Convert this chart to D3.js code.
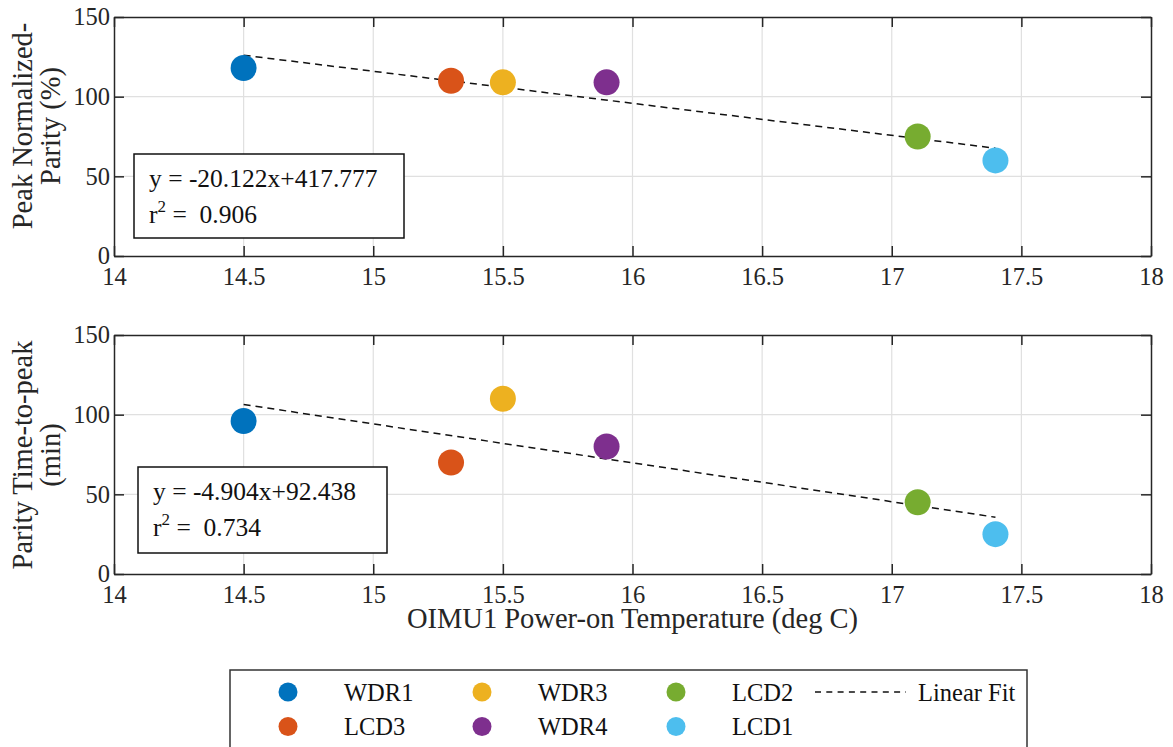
<!DOCTYPE html>
<html>
<head>
<meta charset="utf-8">
<script src="https://cdn.jsdelivr.net/npm/d3@7"></script>
<style>
  html, body { margin: 0; padding: 0; background: #fff; }
  svg { display: block; }
  svg text { font-family: "Liberation Serif", "Times New Roman", serif !important; }
</style>
</head>
<body>
<svg id="chart" width="1173" height="747"></svg>
<script>
// Units and their OIMU1 power-on temperatures (deg C)
const units = ["WDR1", "LCD3", "WDR3", "WDR4", "LCD2", "LCD1"];
const temps = [14.5, 15.3, 15.5, 15.9, 17.1, 17.4];
// Peak normalized parity (%)
const peakParity = [118, 110, 109, 109, 75, 60];
// Parity time-to-peak (min)
const timeToPeak = [96, 70, 110, 80, 45, 25];
const unitColors = ["#0072BD", "#D95319", "#EDB120", "#7E2F8E", "#77AC30", "#4DBEEE"];

const xTicks = [14, 14.5, 15, 15.5, 16, 16.5, 17, 17.5, 18];
const yTicks = [0, 50, 100, 150];

// Fit annotations shown in each panel
const topFitText = ["y = -20.122x+417.777", "0.906"];
const bottomFitText = ["y = -4.904x+92.438", "0.734"];

// Legend layout order (column-major, two rows)
const legendOrder = ["WDR1", "LCD3", "WDR3", "WDR4", "LCD2", "LCD1"];

const svg = d3.select("#chart");
const left = 114, right = 1151;
const axisColor = "#262626";
const tickFont = 24.5;
const boxFont = 25.5;
const labelFont = 28.5;

const x = d3.scaleLinear().domain([14, 18]).range([left, right]);

function leastSquares(xs, ys) {
  const mx = d3.mean(xs), my = d3.mean(ys);
  let sxy = 0, sxx = 0;
  for (let i = 0; i < xs.length; i++) { sxy += (xs[i] - mx) * (ys[i] - my); sxx += (xs[i] - mx) ** 2; }
  const slope = sxy / sxx;
  return { slope, intercept: my - slope * mx };
}

function panel(opts) {
  const { top, bottom, values, ylabel, labelCenter, fitText, box } = opts;
  const y = d3.scaleLinear().domain([0, 150]).range([bottom, top]);
  const g = svg.append("g");

  // grid
  g.append("g").selectAll("line").data(xTicks.slice(1, -1)).join("line")
    .attr("x1", d => x(d)).attr("x2", d => x(d)).attr("y1", top).attr("y2", bottom)
    .attr("stroke", "#e0e0e0").attr("stroke-width", 1.2);
  g.append("g").selectAll("line").data(yTicks.slice(1, -1)).join("line")
    .attr("y1", d => y(d)).attr("y2", d => y(d)).attr("x1", left).attr("x2", right)
    .attr("stroke", "#e0e0e0").attr("stroke-width", 1.2);

  // axes: labelled bottom/left, mirrored ticks on top/right, all pointing inward
  const xb = g.append("g").attr("transform", `translate(0,${bottom})`)
    .call(d3.axisBottom(x).tickValues(xTicks).tickSizeInner(-10).tickSizeOuter(0).tickPadding(12).tickFormat(d3.format("")));
  const xt = g.append("g").attr("transform", `translate(0,${top})`)
    .call(d3.axisTop(x).tickValues(xTicks).tickSizeInner(-10).tickSizeOuter(0).tickFormat(""));
  const yl = g.append("g").attr("transform", `translate(${left},0)`)
    .call(d3.axisLeft(y).tickValues(yTicks).tickSizeInner(-10).tickSizeOuter(0).tickPadding(4));
  const yr = g.append("g").attr("transform", `translate(${right},0)`)
    .call(d3.axisRight(y).tickValues(yTicks).tickSizeInner(-10).tickSizeOuter(0).tickFormat(""));
  [xb, xt, yl, yr].forEach(a => {
    a.select(".domain").attr("stroke", axisColor).attr("stroke-width", 1.5);
    a.selectAll(".tick line").attr("stroke", axisColor).attr("stroke-width", 1.5);
    a.selectAll(".tick text").attr("fill", "#262626").attr("font-size", tickFont);
  });

  // fit annotation box
  g.append("rect").attr("x", box.x).attr("y", box.y).attr("width", box.w).attr("height", box.h)
    .attr("fill", "#fff").attr("stroke", "#111").attr("stroke-width", 1.5);
  g.append("text").attr("x", box.x + 15).attr("y", box.y + 33).attr("font-size", boxFont).attr("fill", "#111")
    .text(fitText[0]);
  const r2 = g.append("text").attr("x", box.x + 15).attr("y", box.y + 69).attr("font-size", boxFont)
    .attr("fill", "#111").attr("xml:space", "preserve").style("white-space", "pre");
  r2.append("tspan").text("r");
  r2.append("tspan").attr("font-size", 17).attr("dy", -11).text("2");
  r2.append("tspan").attr("dy", 11).text(" =  " + fitText[1]);

  // linear least-squares fit over the measured temperature range
  const fit = leastSquares(temps, values);
  const x0 = d3.min(temps), x1 = d3.max(temps);
  g.append("line")
    .attr("x1", x(x0)).attr("y1", y(fit.slope * x0 + fit.intercept))
    .attr("x2", x(x1)).attr("y2", y(fit.slope * x1 + fit.intercept))
    .attr("stroke", "#111").attr("stroke-width", 1.5).attr("stroke-dasharray", "7,5");

  // unit markers
  g.append("g").selectAll("circle").data(units).join("circle")
    .attr("cx", (d, i) => x(temps[i])).attr("cy", (d, i) => y(values[i])).attr("r", 13)
    .attr("fill", (d, i) => unitColors[i]);

  // two-line y label
  ylabel.forEach((line, i) => {
    g.append("text").attr("transform", `translate(${32 + i * 28},${labelCenter}) rotate(-90)`)
      .attr("text-anchor", "middle").attr("font-size", labelFont).attr("fill", "#262626").text(line);
  });
}

panel({ top: 17, bottom: 256, values: peakParity, ylabel: ["Peak Normalized-", "Parity (%)"], labelCenter: 126,
  fitText: topFitText, box: { x: 134, y: 154, w: 270, h: 84 } });
panel({ top: 335, bottom: 574, values: timeToPeak, ylabel: ["Parity Time-to-peak", "(min)"], labelCenter: 455,
  fitText: bottomFitText, box: { x: 138, y: 467, w: 249, h: 86 } });

svg.append("text").attr("x", (left + right) / 2).attr("y", 628).attr("text-anchor", "middle")
  .attr("font-size", labelFont).attr("fill", "#262626").text("OIMU1 Power-on Temperature (deg C)");

// legend
const lg = svg.append("g");
lg.append("rect").attr("x", 230).attr("y", 670).attr("width", 797).attr("height", 100)
  .attr("fill", "#fff").attr("stroke", "#333").attr("stroke-width", 1.5);
const colX = [288, 482, 676];
const rowY = [692, 726.5];
legendOrder.forEach((name, k) => {
  const i = units.indexOf(name);
  const cx = colX[Math.floor(k / 2)], cy = rowY[k % 2];
  lg.append("circle").attr("cx", cx).attr("cy", cy).attr("r", 9.5).attr("fill", unitColors[i]);
  lg.append("text").attr("x", cx + 56).attr("y", cy + 8.5).attr("font-size", tickFont).attr("fill", "#111").text(name);
});
lg.append("line").attr("x1", 815).attr("x2", 906).attr("y1", 692).attr("y2", 692)
  .attr("stroke", "#111").attr("stroke-width", 1.5).attr("stroke-dasharray", "6,5.3");
lg.append("text").attr("x", 918).attr("y", 700.5).attr("font-size", tickFont).attr("fill", "#111").text("Linear Fit");
</script>
</body>
</html>
